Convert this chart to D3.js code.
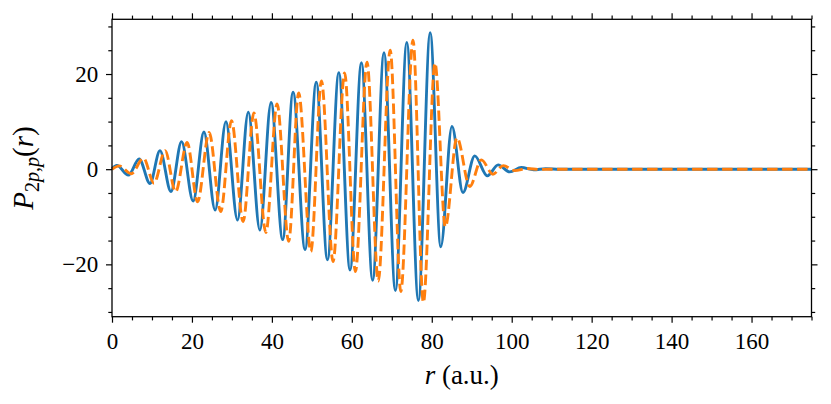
<!DOCTYPE html>
<html lang="en">
<head>
  <meta charset="utf-8">
  <title>P_2p,p(r)</title>
  <script src="https://d3js.org/d3.v7.min.js"></script>
  <style>
    html, body { margin:0; padding:0; background:#fff; }
    svg { display:block; }
    .tick text { font-family:"Liberation Serif", serif; font-size:23px; fill:#000; }
    .tick line { stroke:#000; stroke-width:1.2; }
    .lbl { font-family:"Liberation Serif", serif; fill:#000; }
  </style>
</head>
<body>
  <svg id="chart" width="831" height="404"></svg>
  <script>
    // ─── Data (extrema of each curve) ────────────────────────────────────────
    const blueR = [0, 1.2, 4.1, 6.8, 9.5, 12.0, 14.75, 17.4, 20.3, 23.0, 25.8, 28.5,
      31.4, 34.1, 37.0, 39.8, 42.7, 45.3, 48.3, 51.1, 53.9, 56.75, 59.55, 62.4,
      65.2, 68.05, 70.9, 73.75, 76.65, 79.6, 82.25, 85.05, 87.8, 90.75, 93.9,
      96.6, 99.5, 102.4, 105.5, 108.5, 112, 175];
    const blueV = [0.1, 0.8, -1.25, 2.15, -3.0, 3.9, -4.7, 5.8, -6.7, 7.8, -8.6, 10.0,
      -10.7, 12.0, -12.8, 14.0, -14.8, 16.2, -16.9, 18.3, -19.05, 20.3, -21.2, 22.4,
      -23.35, 24.5, -25.5, 26.65, -27.6, 28.7, -16.3, 9.0, -4.9, 2.8, -1.4,
      0.9, -0.57, 0.34, -0.12, 0.1, 0, 0];

    const orangeR = [0, 1.8, 4.8, 7.9, 10.5, 13.3, 15.9, 18.8, 21.4, 24.3, 27.2, 29.9,
      32.8, 35.5, 38.5, 41.3, 44.2, 46.7, 49.75, 52.4, 55.3, 58.2, 60.9, 63.8,
      66.6, 69.6, 72.25, 75.3, 77.9, 80.8, 83.4, 86.3, 89.5, 92.4, 95.3,
      97.9, 100.8, 103.8, 107, 112, 175];
    const orangeV = [0, 0.7, -0.95, 2.3, -2.95, 3.9, -4.75, 5.6, -6.85, 7.7, -8.9, 10.2,
      -11.0, 11.8, -13.3, 13.7, -15.15, 16.0, -17.3, 18.55, -19.4, 20.25, -21.5, 22.5,
      -23.5, 25.0, -25.7, 27.1, -28.0, 22.3, -12.1, 6.6, -3.65, 1.95, -1.05,
      0.75, -0.3, 0.15, -0.05, 0, 0];

    const xMajor = [0, 20, 40, 60, 80, 100, 120, 140, 160];
    const yMajor = [-20, 0, 20];
    // ───────────────────────────────────────────────────────────────────────────

    const svg = d3.select("#chart");
    const m = { left: 112, right: 811.5, top: 19.3, bottom: 316.7 };

    const x = d3.scaleLinear().domain([0, 175]).range([m.left, m.right]);
    const y = d3.scaleLinear().domain([-31, 31.5]).range([m.bottom, m.top]);

    const xMinor = d3.range(0, 176, 5).filter(v => v % 20 !== 0);
    const yMinor = d3.range(-30, 31, 5).filter(v => v % 20 !== 0);

    // Minor ticks on all four sides
    const minor = [
      [d3.axisBottom(x), `0,${m.bottom}`, xMinor],
      [d3.axisTop(x), `0,${m.top}`, xMinor],
      [d3.axisLeft(y), `${m.left},0`, yMinor],
      [d3.axisRight(y), `${m.right},0`, yMinor]
    ];
    minor.forEach(([ax, tr, vals]) => {
      svg.append("g").attr("transform", `translate(${tr})`)
        .call(ax.tickValues(vals).tickSize(3.7).tickSizeOuter(0).tickFormat(""))
        .call(g => g.select(".domain").remove());
    });

    // Major ticks (labels only bottom/left)
    svg.append("g").attr("transform", `translate(0,${m.bottom})`)
      .call(d3.axisBottom(x).tickValues(xMajor).tickSize(6).tickPadding(9.5).tickSizeOuter(0))
      .call(g => g.select(".domain").remove());
    svg.append("g").attr("transform", `translate(0,${m.top})`)
      .call(d3.axisTop(x).tickValues(xMajor).tickSize(6).tickSizeOuter(0).tickFormat(""))
      .call(g => g.select(".domain").remove());
    svg.append("g").attr("transform", `translate(${m.left},0)`)
      .call(d3.axisLeft(y).tickValues(yMajor).tickSize(6).tickPadding(7.7).tickSizeOuter(0))
      .call(g => g.select(".domain").remove());
    svg.append("g").attr("transform", `translate(${m.right},0)`)
      .call(d3.axisRight(y).tickValues(yMajor).tickSize(6).tickSizeOuter(0).tickFormat(""))
      .call(g => g.select(".domain").remove());

    // Curves
    const line = d3.line()
      .x(d => x(d[0])).y(d => y(d[1]))
      .curve(d3.curveMonotoneX);

    svg.append("path")
      .datum(d3.zip(blueR, blueV))
      .attr("d", line)
      .attr("fill", "none")
      .attr("stroke", "#1f77b4")
      .attr("stroke-width", 2.9);

    svg.append("path")
      .datum(d3.zip(orangeR, orangeV))
      .attr("d", line)
      .attr("fill", "none")
      .attr("stroke", "#ff7f0e")
      .attr("stroke-width", 2.9)
      .attr("stroke-dasharray", "10.5,4.5");

    // Frame
    svg.append("rect")
      .attr("x", m.left).attr("y", m.top)
      .attr("width", m.right - m.left).attr("height", m.bottom - m.top)
      .attr("fill", "none").attr("stroke", "#000").attr("stroke-width", 1.3);

    // Axis labels
    const xl = svg.append("text").attr("class", "lbl")
      .attr("x", (m.left + m.right) / 2).attr("y", 384)
      .attr("text-anchor", "middle").style("font-size", "27px");
    xl.append("tspan").style("font-style", "italic").text("r");
    xl.append("tspan").text(" (a.u.)");

    const yl = svg.append("text").attr("class", "lbl")
      .attr("transform", `translate(33,${(m.top + m.bottom) / 2}) rotate(-90)`)
      .attr("text-anchor", "middle").style("font-size", "29px");
    yl.append("tspan").style("font-style", "italic").text("P");
    const sub = yl.append("tspan").attr("dy", 6).style("font-size", "20px");
    sub.append("tspan").text("2");
    sub.append("tspan").style("font-style", "italic").text("p");
    sub.append("tspan").text(",");
    sub.append("tspan").style("font-style", "italic").text("p");
    yl.append("tspan").attr("dy", -6).text("(");
    yl.append("tspan").style("font-style", "italic").text("r");
    yl.append("tspan").text(")");
  </script>
</body>
</html>
